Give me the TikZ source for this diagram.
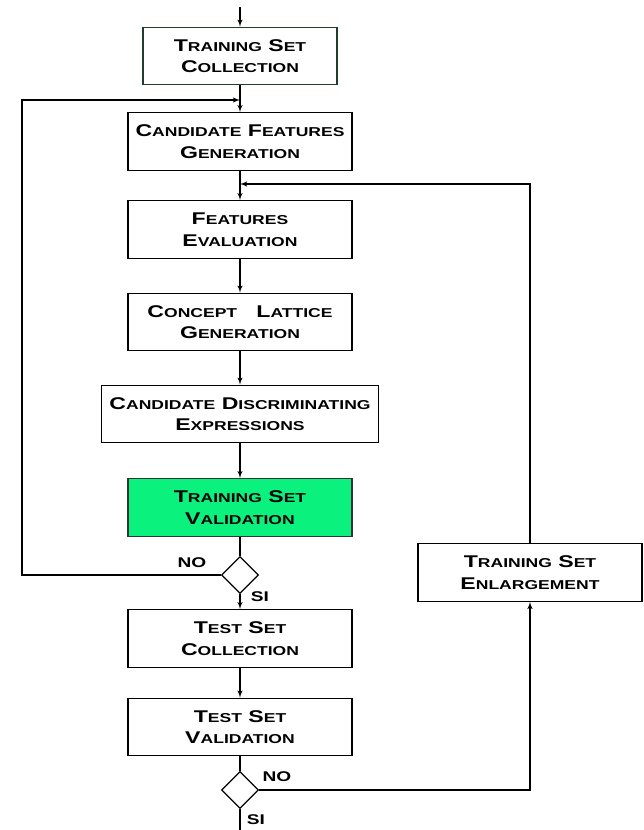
\documentclass[tikz,border=0pt]{standalone}
\usepackage{fontspec}
\usepackage{tikz}
\usetikzlibrary{shapes.geometric,arrows,calc}

\newfontfamily\cgfont[FakeStretch=1.36]{Liberation Sans}
\newcommand\initcap[2]{#1{\fontsize{11pt}{18pt}\selectfont#2}}
\definecolor{valgreen}{RGB}{10,242,125}
\definecolor{edgegreen}{RGB}{30,62,42}

\begin{document}
\begin{tikzpicture}[x=0.03cm,y=-0.03cm,line width=1.1pt,>=latex',
    box/.style={draw,align=center,inner sep=0pt,minimum width=6.72cm,minimum height=1.72cm,
      font=\cgfont\bfseries\fontsize{14.5pt}{18.5pt}\selectfont},
    choice/.style={draw,diamond,inner sep=0pt,minimum size=1.11cm},
    lbl/.style={font=\cgfont\bfseries\fontsize{12pt}{13pt}\selectfont,inner sep=0pt}]
      \useasboundingbox (0,0) rectangle (644,830);
      % main column
      \node (tsc) [box,draw=edgegreen,minimum width=5.82cm] at (240,56) {\initcap{T}{RAINING} \initcap{S}{ET}\\ \initcap{C}{OLLECTION}};
      \node (cfg) [box] at (240,141.5) {\initcap{C}{ANDIDATE} \initcap{F}{EATURES}\\ \initcap{G}{ENERATION}};
      \node (fev) [box] at (240,229.5) {\initcap{F}{EATURES}\\ \initcap{E}{VALUATION}};
      \node (clg) [box] at (240,322) {\initcap{C}{ONCEPT}~~~\initcap{L}{ATTICE}\\ \initcap{G}{ENERATION}};
      \node (cde) [box,minimum width=8.3cm] at (240,414) {\initcap{C}{ANDIDATE} \initcap{D}{ISCRIMINATING}\\ \initcap{E}{XPRESSIONS}};
      \node (tsv) [box,fill=valgreen,draw=black!80] at (240,507.5) {\initcap{T}{RAINING} \initcap{S}{ET}\\ \initcap{V}{ALIDATION}};
      \node (dv1) [choice] at (240,575) {};
      \node (tec) [box] at (240,638.5) {\initcap{T}{EST} \initcap{S}{ET}\\ \initcap{C}{OLLECTION}};
      \node (tev) [box] at (240,727) {\initcap{T}{EST} \initcap{S}{ET}\\ \initcap{V}{ALIDATION}};
      \node (dv2) [choice] at (240,790) {};
      \node (tse) [box] at (530,572.5) {\initcap{T}{RAINING} \initcap{S}{ET}\\ \initcap{E}{NLARGEMENT}};
      % labels
      \node (no1) [lbl] at (192,563) {NO};
      \node (si1) [lbl] at (260,597) {SI};
      \node (no2) [lbl] at (277,777) {NO};
      \node (si2) [lbl] at (256,820) {SI};
      % joins and ends
      \coordinate (start) at (240,7);
      \coordinate (stop) at (240,830);
      \coordinate (j1) at (240,100);
      \coordinate (j2) at (240,184);
      \coordinate (lc) at (22,100);
      \draw[->] (start) -- (tsc);
      \draw[->] (tsc) -- (cfg);
      \draw[->] (cfg) -- (fev);
      \draw[->] (fev) -- (clg);
      \draw[->] (clg) -- (cde);
      \draw[->] (cde) -- (tsv);
      \draw (tsv) -- (dv1);
      \draw[->] (dv1) -- (tec);
      \draw[->] (tec) -- (tev);
      \draw (tev) -- (dv2);
      \draw (dv2) -- (stop);
      % loops
      \draw[->] (dv1.west) -| (lc) -- (j1);
      \draw[->] (dv2.east) -| (tse.south);
      \draw[->] (tse.north) |- (j2);
    \end{tikzpicture}
\end{document}
